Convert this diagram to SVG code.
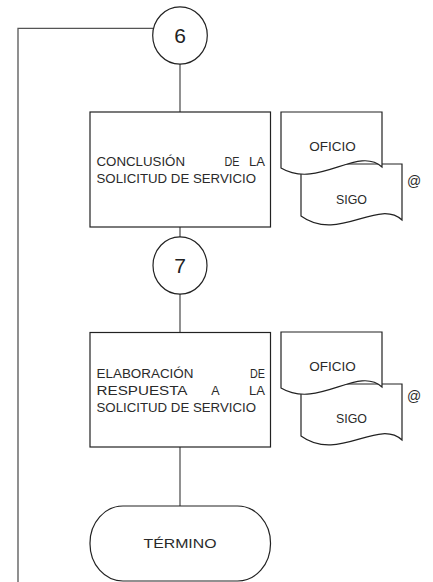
<svg xmlns="http://www.w3.org/2000/svg" width="433" height="582" viewBox="0 0 433 582">
<defs>
<style>
.conn{fill:none;stroke:#555;stroke-width:1.3}
.shape{fill:#fff;stroke:#222;stroke-width:1.2}
.t{font-family:"Liberation Sans",Arial,sans-serif;font-size:12.5px;fill:#2a2a2a}
.num{font-family:"Liberation Sans",Arial,sans-serif;font-size:21px;fill:#222;text-anchor:middle}
.c{text-anchor:middle}
.e{text-anchor:end}
</style>
<g id="docpair">
<path class="shape" d="M301,164 H402 V220 C378,198 338,243 301,216 Z"/>
<path class="shape" d="M281,112 H382 V167 C358,145 318,190 281,168 Z"/>
</g>
</defs>
<g id="connectors">
<polyline class="conn" points="153,28.3 18,28.3 18,582"/>
<line class="conn" x1="180" y1="64" x2="180" y2="112"/>
<line class="conn" x1="180" y1="227" x2="180" y2="237"/>
<line class="conn" x1="180" y1="294" x2="180" y2="333"/>
<line class="conn" x1="180" y1="447" x2="180" y2="506"/>
</g>
<g id="conn6">
<ellipse class="shape" cx="180" cy="35.5" rx="27.3" ry="28.6"/>
<text class="num" x="180" y="42.5">6</text>
</g>
<g id="proc1">
<rect class="shape" x="90" y="112" width="180.5" height="115"/>
<text class="t" x="96.5" y="165.5" textLength="88.5" lengthAdjust="spacingAndGlyphs">CONCLUSIÓN</text>
<text class="t" x="224.5" y="165.5" textLength="15" lengthAdjust="spacingAndGlyphs">DE</text>
<text class="t e" x="265" y="165.5" textLength="16" lengthAdjust="spacingAndGlyphs">LA</text>
<text class="t" x="96.5" y="182.5" textLength="159.5" lengthAdjust="spacingAndGlyphs">SOLICITUD DE SERVICIO</text>
</g>
<g id="docs1">
<use href="#docpair"/>
<text class="t c" x="332.5" y="150.5" textLength="46.5" lengthAdjust="spacingAndGlyphs">OFICIO</text>
<text class="t c" x="351.5" y="203.5" textLength="31" lengthAdjust="spacingAndGlyphs">SIGO</text>
<text class="t" x="407" y="186" style="font-size:14px">@</text>
</g>
<g id="conn7">
<ellipse class="shape" cx="180" cy="265.5" rx="27" ry="28.6"/>
<text class="num" x="180" y="272.5">7</text>
</g>
<g id="proc2">
<rect class="shape" x="90" y="332.5" width="180.5" height="114.5"/>
<text class="t" x="96.5" y="377.5" textLength="97" lengthAdjust="spacingAndGlyphs">ELABORACIÓN</text>
<text class="t e" x="265" y="377.5" textLength="15" lengthAdjust="spacingAndGlyphs">DE</text>
<text class="t" x="96.5" y="394.5" textLength="91" lengthAdjust="spacingAndGlyphs">RESPUESTA</text>
<text class="t c" x="215.5" y="394.5">A</text>
<text class="t e" x="265" y="394.5" textLength="16" lengthAdjust="spacingAndGlyphs">LA</text>
<text class="t" x="96.5" y="411.5" textLength="159.5" lengthAdjust="spacingAndGlyphs">SOLICITUD DE SERVICIO</text>
</g>
<g id="docs2">
<use href="#docpair" y="220"/>
<text class="t c" x="332.5" y="370.5" textLength="46.5" lengthAdjust="spacingAndGlyphs">OFICIO</text>
<text class="t c" x="351.5" y="422.5" textLength="31" lengthAdjust="spacingAndGlyphs">SIGO</text>
<text class="t" x="407" y="401" style="font-size:14px">@</text>
</g>
<g id="termino">
<rect class="shape" x="90" y="506" width="180.5" height="75" rx="33" ry="37"/>
<text class="t c" x="180" y="548" textLength="73" lengthAdjust="spacingAndGlyphs" style="font-size:13px">TÉRMINO</text>
</g>
</svg>
